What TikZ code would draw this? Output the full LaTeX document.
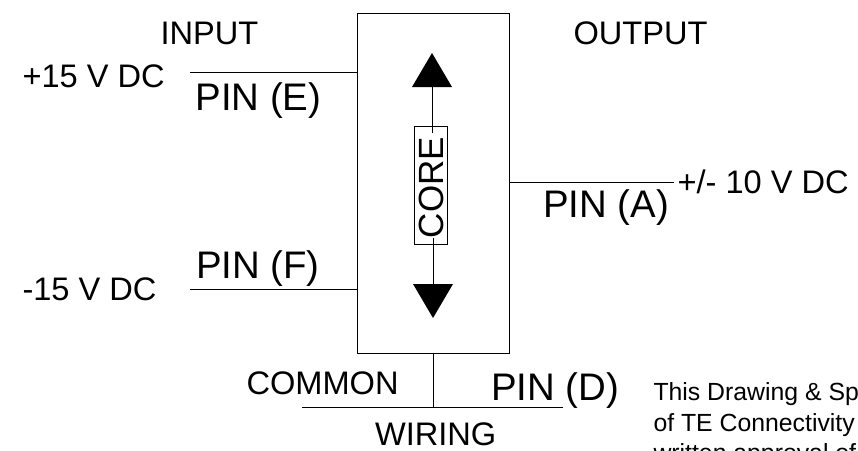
\documentclass[tikz,border=0pt]{standalone}
\usepackage{fontspec}
\setmainfont{Liberation Sans}
\begin{document}
\begin{tikzpicture}[x=1pt,y=-1pt,line width=1pt,
    big/.style={anchor=base west,inner sep=0pt,font=\fontsize{38.4}{38.4}\selectfont},
    mid/.style={anchor=base west,inner sep=0pt,font=\fontsize{32.6}{32.6}\selectfont},
    note/.style={anchor=base west,inner sep=0pt,font=\fontsize{24.8}{24.8}\selectfont}]
    \useasboundingbox (0,0) rectangle (858,450);

    % Body and core
    \node (body) at (433,183) [draw,minimum width=152,minimum height=340,inner sep=0pt] {};
    \node (core) at (431,185) [draw,rotate=90,minimum width=118,minimum height=33,inner sep=0pt,
        font=\fontsize{35}{35}\selectfont] {CORE\hspace*{5pt}};

    % Core arrows
    \coordinate (upbase) at (432,87);
    \coordinate (downbase) at (433,284);
    \fill (upbase) ++(-20,0) -- ++(20,-34) -- ++(20,34) -- cycle;
    \fill (downbase) ++(-20,0) -- ++(20,34) -- ++(20,-34) -- cycle;
    \draw (upbase |- core.east) ++(0,7) -- (upbase);
    \draw (downbase |- core.west) ++(0,-7) -- (downbase);

    % Supply wires
    \coordinate (plusend) at (190,72.5);
    \coordinate (minusend) at (190,289);
    \coordinate (outend) at (674,182);
    \draw (plusend) -- (plusend -| body.west);
    \draw (minusend) -- (minusend -| body.west);
    \draw (outend -| body.east) -- (outend);

    % Common wire
    \coordinate (commonl) at (302,407.5);
    \coordinate (commonr) at (563,407.5);
    \draw (commonl) -- (commonr);
    \draw (body.south) -- (body.south |- commonl);

    % Labels
    \node (input) at (160,44) [mid] {INPUT};
    \node (output) at (573,44) [mid] {OUTPUT};
    \node (plus) at (22,87) [mid] {+15 V DC};
    \node (minus) at (22,300) [mid] {-15 V DC};
    \node (volts) at (677,193) [mid] {+/- 10 V DC};
    \node (common) at (246,394) [mid] {COMMON};
    \node (wiring) at (374.5,445) [mid] {WIRING};
    \node (pine) at (195,110) [big] {PIN (E)};
    \node (pinf) at (195.5,278) [big] {PIN (F)};
    \node (pina) at (542.5,217) [big] {PIN (A)};
    \node (pind) at (490.5,400) [big] {PIN (D)};

    % Note, cut off by the page
    \node (notea) at (653,400.5) [note] {This Drawing \& Sp};
    \node (noteb) at (653,431) [note] {of TE Connectivity};
    \node (notec) at (653,461.5) [note] {written approval of};
\end{tikzpicture}
\end{document}
